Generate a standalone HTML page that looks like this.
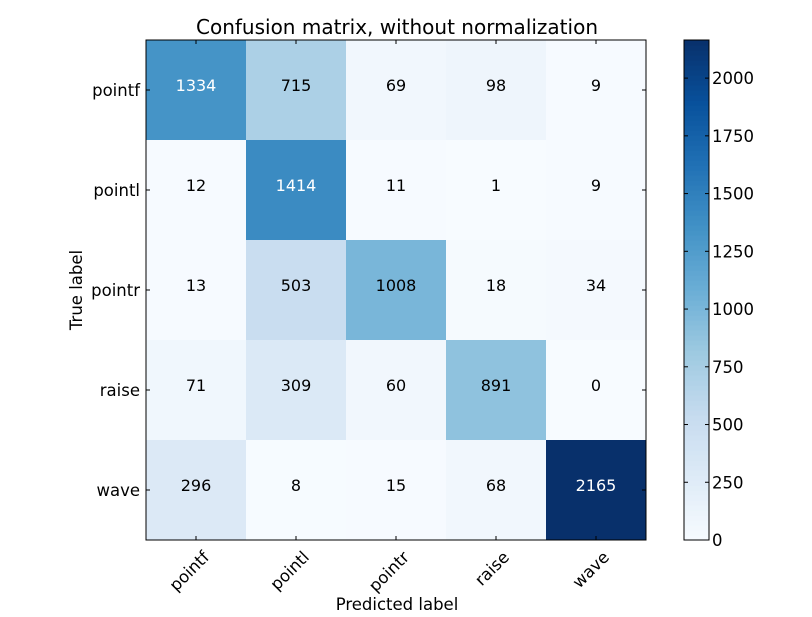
<!DOCTYPE html>
<html><head><meta charset="utf-8">
<style>
body{margin:0;background:#fff;font-family:"Liberation Sans","DejaVu Sans",sans-serif;}
svg text{font-family:"DejaVu Sans","Liberation Sans",sans-serif;}
</style></head>
<body>
<svg id="chart" width="812" height="612" xmlns="http://www.w3.org/2000/svg">
<rect width="812" height="612" fill="#fff"/>
<text x="397" y="34" font-size="20" text-anchor="middle">Confusion matrix, without normalization</text>
<g id="cells"></g>
<g id="axes"></g>
<g id="cbar"></g>
<text x="397" y="610" font-size="16.5" text-anchor="middle">Predicted label</text>
<text transform="translate(82,290) rotate(-90)" font-size="16.5" text-anchor="middle">True label</text>
</svg>
<script>
const classes = ["pointf","pointl","pointr","raise","wave"];
const row0 = [1334,715,69,98,9];
const row1 = [12,1414,11,1,9];
const row2 = [13,503,1008,18,34];
const row3 = [71,309,60,891,0];
const row4 = [296,8,15,68,2165];
const matrix = [row0,row1,row2,row3,row4];
const cbarTicks = [0,250,500,750,1000,1250,1500,1750,2000];

const NS="http://www.w3.org/2000/svg";
const X0=146,Y0=40,W=500,H=500,CB0=684,CBW=25;
const n=classes.length, cw=W/n, ch=H/n;
let vmax=0,vmin=Infinity;
matrix.forEach(r=>r.forEach(v=>{vmax=Math.max(vmax,v);vmin=Math.min(vmin,v);}));
const stops=["#f7fbff","#deebf7","#c6dbef","#9ecae1","#6baed6","#4292c6","#2171b5","#08519c","#08306b"];
function hex(h){return [1,3,5].map(i=>parseInt(h.substr(i,2),16));}
function blues(t){t=Math.max(0,Math.min(1,t));const p=t*8,i=Math.min(7,Math.floor(p)),f=p-i;
const a=hex(stops[i]),b=hex(stops[i+1]);return "rgb("+a.map((c,k)=>Math.round(c+(b[k]-c)*f)).join(",")+")";}
function xs(j){return X0+j*cw;}
function ys(i){return Y0+i*ch;}
function mk(tag,attrs,parent){const e=document.createElementNS(NS,tag);for(const k in attrs)e.setAttribute(k,attrs[k]);parent.appendChild(e);return e;}
const cells=document.getElementById("cells");
matrix.forEach((r,i)=>r.forEach((v,j)=>{
 const rc=mk("rect",{x:xs(j),y:ys(i),width:cw+0.5,height:ch+0.5,fill:blues((v-vmin)/(vmax-vmin))},cells);
 
 
 const t=mk("text",{x:xs(j)+cw/2,y:ys(i)+ch/2+1,"font-size":16,"text-anchor":"middle",fill:v>vmax/2?"#fff":"#000"},cells);
 t.textContent=v;
 
 
}));
const axes=document.getElementById("axes");
mk("rect",{x:X0,y:Y0,width:W,height:H,fill:"none",stroke:"#000","stroke-width":1},axes);
classes.forEach((c,k)=>{
 const cx=xs(k)+cw/2, cy=ys(k)+ch/2;
 mk("line",{x1:cx,y1:Y0+H,x2:cx,y2:Y0+H-4,stroke:"#000"},axes);
 mk("line",{x1:cx,y1:Y0,x2:cx,y2:Y0+4,stroke:"#000"},axes);
 mk("line",{x1:X0,y1:cy,x2:X0+4,y2:cy,stroke:"#000"},axes);
 mk("line",{x1:X0+W,y1:cy,x2:X0+W-4,y2:cy,stroke:"#000"},axes);
 const tx=mk("text",{transform:"translate("+(cx+6)+","+(Y0+H+10)+") rotate(-45)","font-size":16.5,"text-anchor":"end",dy:"0.7em"},axes);
 tx.textContent=c;
 
 
 const ty=mk("text",{x:X0-6,y:cy+6,"font-size":16.5,"text-anchor":"end"},axes);
 ty.textContent=c;
 
 
});
const cb=document.getElementById("cbar");
const N=100;
for(let k=0;k<N;k++){
 const r=mk("rect",{x:CB0,y:Y0+H-(k+1)*H/N,width:CBW,height:H/N+0.6,fill:blues((k+0.5)/N)},cb);
 
 
}
mk("rect",{x:CB0,y:Y0,width:CBW,height:H,fill:"none",stroke:"#000"},cb);
function cy(v){return Y0+H-(v-vmin)/(vmax-vmin)*H;}
cbarTicks.forEach(v=>{
 const y=cy(v);
 mk("line",{x1:CB0+CBW,y1:y,x2:CB0+CBW-4,y2:y,stroke:"#000"},cb);
 mk("line",{x1:CB0,y1:y,x2:CB0+4,y2:y,stroke:"#000"},cb);
 const t=mk("text",{x:CB0+CBW+3,y:y+6,"font-size":16.5},cb);
 t.textContent=v;
 
 
});
</script>
</body></html>
